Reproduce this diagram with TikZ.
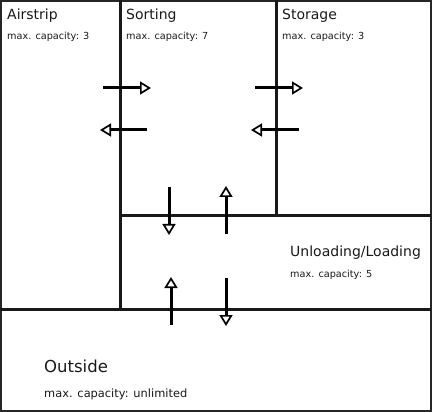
\documentclass[tikz,border=0pt]{standalone}
\usepackage{fontspec}
\setmainfont{DejaVu Sans}
\usetikzlibrary{arrows.meta}

\tikzset{
    % Wall styles - thick and dark
    wall/.style={line width=3pt, black!90},
    outer wall/.style={line width=2.5pt, black!85},
    % Flow arrows - open triangle heads
    flow/.style={line width=3pt, black,
        -{Triangle[open, length=11pt, width=13pt, line width=1.7pt]}},
    % Label styles
    room label/.style={anchor=base west, inner sep=0pt, black!90,
        font=\fontsize{14}{16}\selectfont},
    cap label/.style={anchor=base west, inner sep=0pt, black!90,
        font=\fontsize{9.7}{12}\selectfont},
    big room label/.style={room label, font=\fontsize{16.5}{19}\selectfont},
    big cap label/.style={cap label, font=\fontsize{11.4}{14}\selectfont},
}

\begin{document}
\begin{tikzpicture}[x=1pt, y=-1pt]
    \useasboundingbox (0,0) rectangle (432,412);

    % Walls
    \draw[outer wall] (1.2,1.2) rectangle (430.8,410.8);
    \draw[wall] (120,0) -- (120,309);
    \draw[wall] (276,0) -- (276,216);
    \draw[wall] (120,216) -- (431,216);
    \draw[wall] (0,309.5) -- (431,309.5);

    % Rooms
    \node[room label] (airstrip) at (7,20) {Airstrip};
    \node[cap label] (airstrip cap) at (7,40) {max. capacity: 3};
    \node[room label] (sorting) at (126,20) {Sorting};
    \node[cap label] (sorting cap) at (126,40) {max. capacity: 7};
    \node[room label] (storage) at (282,20) {Storage};
    \node[cap label] (storage cap) at (282,40) {max. capacity: 3};
    \node[room label] (unloading) at (290,257) {Unloading/Loading};
    \node[cap label] (unloading cap) at (290,277) {max. capacity: 5};
    \node[big room label] (outside) at (44,372) {Outside};
    \node[big cap label] (outside cap) at (44,397) {max. capacity: unlimited};

    % Airstrip <-> Sorting
    \draw[flow] (103,88) -- (151,88);
    \draw[flow] (147,130) -- (100,130);

    % Sorting <-> Storage
    \draw[flow] (255,88) -- (303,88);
    \draw[flow] (299,130) -- (251,130);

    % Sorting <-> Unloading/Loading
    \draw[flow] (169,187) -- (169,235);
    \draw[flow] (226,234) -- (226,186);

    % Outside <-> Unloading/Loading
    \draw[flow] (171,325) -- (171,277);
    \draw[flow] (226,278) -- (226,326);
\end{tikzpicture}
\end{document}
